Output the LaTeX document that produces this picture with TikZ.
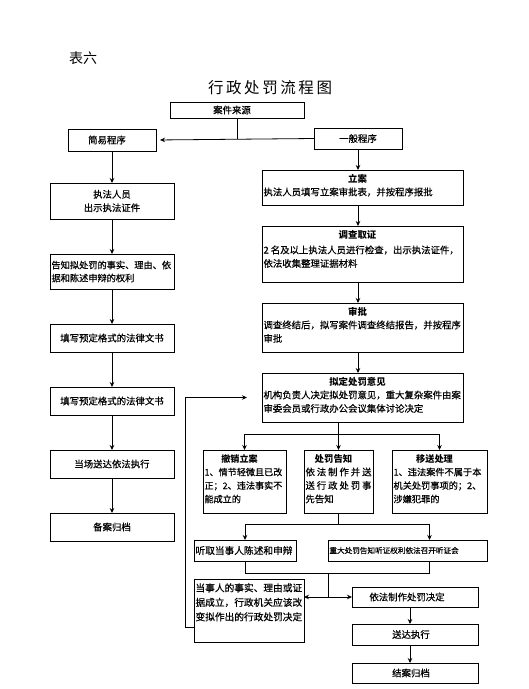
\documentclass[tikz,border=0pt]{standalone}
\usepackage{fontspec}
\setmainfont{Noto Sans CJK SC}[FakeBold=0.5, BoldFeatures={FakeBold=0}]
\newfontfamily\titlefont{Noto Sans CJK SC}
\usetikzlibrary{arrows.meta, positioning, calc}
\XeTeXlinebreaklocale "zh"
\XeTeXlinebreakskip=0pt plus 1pt
\newcommand{\wz}{\fontsize{9.4}{13.5}\selectfont}
% box with a centred bold title and text from the top
\newcommand{\kt}[4]{\parbox[t][#2][t]{#1}{\raggedright\centerline{\rule{0pt}{10.5pt}\bfseries #3\hspace{10pt}}\par #4}}
\tikzset{
  kbox/.style={draw, line width=0.8pt, anchor=north west, inner sep=1.5pt,
               outer sep=0pt, font=\wz},
  cbox/.style={kbox, align=center},
  lbox/.style={kbox, align=left},
  arr/.style={-{Stealth[length=5pt,width=4.5pt]}, line width=0.8pt},
  ln/.style={line width=0.8pt},
}

\begin{document}
\begin{tikzpicture}[x=1pt, y=-1pt]
  \useasboundingbox (0,0) rectangle (529,689);

  %% heading
  \node (biao) at (83,58) {\titlefont\fontsize{14}{14}\selectfont 表六};
  \node (title) at (270,88) {\titlefont\fontsize{15.5}{16}\selectfont\makebox[124pt][s]{行 政 处 罚 流 程 图}};

  %% start
  \node[cbox, minimum width=134pt, minimum height=16pt] (laiyuan) at (170,102) {案件来源\hspace{10pt}};
  \node[cbox, minimum width=88pt, minimum height=22pt] (jianyi) at (68,129) {简易程序\hspace{10pt}};
  \node[cbox, minimum width=88pt, minimum height=21pt] (yiban) at (314,128) {一般程序};
  \draw[ln] (laiyuan.south) -- (laiyuan.south |- yiban.west);
  \draw[arr, shorten >=4pt] (yiban.west) -- (jianyi.east);

  %% simple procedure
  \node[cbox, minimum width=124pt, minimum height=36pt] (zhifa) at (50,183) {执法人员\\出示执法证件};
  \node[lbox, text width=121pt, minimum height=35pt, font=\fontsize{9.2}{13}\selectfont] (gaozhi) at (50,254)
    {告知拟处罚的事实、理由、依\\据和陈述申辩的权利};
  \node[cbox, minimum width=124pt, minimum height=28pt] (tianxie1) at (50,324) {填写预定格式的法律文书};
  \node[cbox, minimum width=124pt, minimum height=28pt] (tianxie2) at (50,387) {填写预定格式的法律文书};
  \node[cbox, minimum width=124pt, minimum height=28pt] (songda1) at (50,450) {当场送达依法执行};
  \node[cbox, minimum width=124pt, minimum height=28pt] (beian) at (50,513) {备案归档};
  \draw[arr] (jianyi.south -| zhifa.north) -- (zhifa.north);
  \draw[arr] (zhifa.south) -- (gaozhi.north);
  \draw[arr] (gaozhi.south) -- (tianxie1.north);
  \draw[arr] (tianxie1.south) -- (tianxie2.north);
  \draw[arr] (tianxie2.south) -- (songda1.north);
  \draw[arr] (songda1.south) -- (beian.north);

  %% general procedure
  \node[kbox] (lian) at (262,170) {\kt{198pt}{32pt}{立案}{执法人员填写立案审批表，并按程序报批}};
  \node[kbox] (diaocha) at (262,226) {\kt{198pt}{53pt}{调查取证}{\vspace{2pt}2 名及以上执法人员进行检查，出示执法证件，\\依法收集整理证据材料}};
  \node[kbox] (shenpi) at (262,303) {\kt{198pt}{46pt}{审批}{调查终结后，拟写案件调查终结报告，并按程序\\审批}};
  \node[kbox] (niding) at (262,373) {\kt{198pt}{46pt}{拟定处罚意见}{机构负责人决定拟处罚意见，重大复杂案件由案\\审委会员或行政办公会议集体讨论决定}};
  \draw[arr] (yiban.south) -- (yiban.south |- lian.north);
  \draw[arr] (lian.south -| yiban.south) -- (diaocha.north -| yiban.south);
  \draw[arr] (diaocha.south -| yiban.south) -- (shenpi.north -| yiban.south);
  \draw[arr] (shenpi.south -| yiban.south) -- (niding.north -| yiban.south);

  %% three outcomes
  \node[kbox, font=\fontsize{9.1}{13.5}\selectfont] (chexiao) at (203,450) {\kt{80pt}{60pt}{撤销立案}{1、情节轻微且已改\\正；2、违法事实不\\能成立的}};
  \node[kbox] (gaozhi2) at (304,450) {\kt{66pt}{60pt}{处罚告知}{\makebox[\hsize][s]{依 法 制 作 并 送}\\\makebox[\hsize][s]{送 行 政 处 罚 事}\\先告知}};
  \node[kbox, font=\fontsize{9.2}{13.5}\selectfont] (yisong) at (392,450) {\kt{92pt}{60pt}{移送处理}{1、违法案件不属于本\\机关处罚事项的；2、\\涉嫌犯罪的}};
  \coordinate (f1) at ($(niding.south -| gaozhi2.north)+(0,12)$);
  \draw[ln] (niding.south -| gaozhi2.north) -- (f1);
  \draw[ln] (f1 -| chexiao.north) -- (f1 -| yisong.north);
  \draw[arr] (f1 -| chexiao.north) -- (chexiao.north);
  \draw[arr] (f1) -- (gaozhi2.north);
  \draw[arr] (f1 -| yisong.north) -- (yisong.north);

  %% hearing
  \node[lbox, text width=99pt, minimum height=21pt, font=\fontsize{9.7}{12}\selectfont] (tingqu) at (194,540) {听取当事人陈述和申辩};
  \node[lbox, text width=156pt, minimum height=21pt, font=\fontsize{7.6}{10}\selectfont] (tingzheng) at (328,540) {重大处罚告知听证权利依法召开听证会};
  \coordinate (t2) at ([xshift=22pt]tingzheng.north);
  \coordinate (t3) at ([xshift=22pt]tingzheng.south);
  \coordinate (f2) at ($(gaozhi2.south)+(0,11)$);
  \draw[ln] (gaozhi2.south) -- (f2);
  \draw[ln] (f2 -| tingqu.north) -- (f2 -| t2);
  \draw[arr] (f2 -| tingqu.north) -- (tingqu.north);
  \draw[arr] (f2 -| t2) -- (t2);

  %% decision
  \node[kbox, font=\fontsize{9.7}{14.5}\selectfont] (dangshi) at (194,579)
    {\parbox[t][60pt][t]{107pt}{\raggedright\rule{0pt}{11pt}当事人的事实、理由或证\\据成立，行政机关应该改\\变拟作出的行政处罚决定}};
  \node[cbox, minimum width=126pt, minimum height=20pt] (yifa) at (352,587) {依法制作处罚决定\hspace{16pt}};
  \node[cbox, minimum width=126pt, minimum height=21pt] (songda2) at (352,624) {送达执行\hspace{8pt}};
  \node[cbox, minimum width=126pt, minimum height=20pt] (jiean) at (352,663) {结案归档\hspace{8pt}};
  \coordinate (f3) at ($(tingqu.south)+(0,12)$);
  \coordinate (f4) at ($(dangshi.east)!0.5!(yifa.west)$);
  \draw[ln] (tingqu.south) -- (f3) -- (f3 -| t3) -- (t3);
  \draw[ln] (f3 -| f4) -- (f4 |- yifa.west);
  \draw[arr] (f4 |- yifa.west) -- (yifa.west);
  \draw[arr] (f4 |- yifa.west) -- (dangshi.east |- yifa.west);
  \draw[arr] ([xshift=-5pt]yifa.south) -- ([xshift=-5pt]songda2.north);
  \draw[arr] ([xshift=-5pt]songda2.south) -- ([xshift=-5pt]jiean.north);

  %% back to the draft opinion
  \draw[arr, shorten >=15pt] ([yshift=-17pt]dangshi.west) -- ++(-9,0) |- (niding.west);

\end{tikzpicture}
\end{document}
